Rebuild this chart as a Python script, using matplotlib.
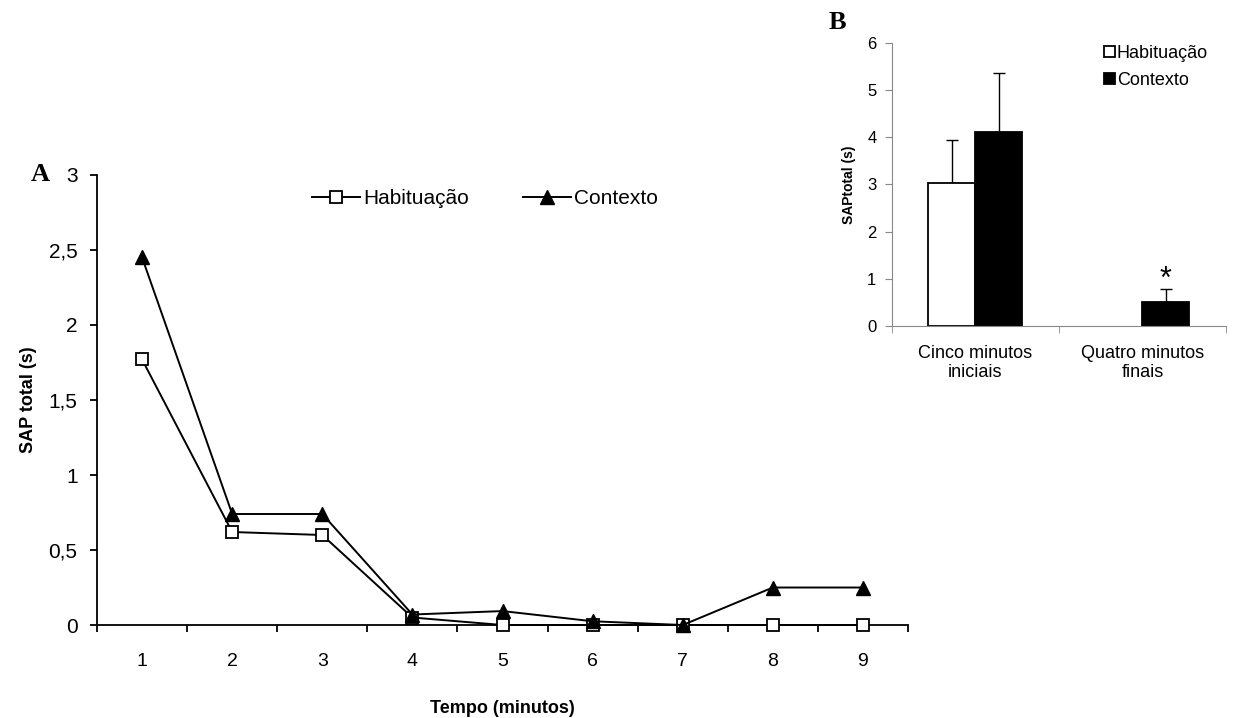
import matplotlib
matplotlib.use("Agg")
import matplotlib.pyplot as plt
import numpy as np

plt.rcParams['font.family'] = ['Liberation Sans', 'DejaVu Sans']

# painel A - SAP por minuto
minutos = [1, 2, 3, 4, 5, 6, 7, 8, 9]
habituacao = [1.77, 0.62, 0.60, 0.05, 0.0, 0.0, 0.0, 0.0, 0.0]
contexto = [2.45, 0.74, 0.74, 0.07, 0.093, 0.025, 0.0, 0.25, 0.25]

# painel B - medias e erros
grupos_b = ['Cinco minutos\niniciais', 'Quatro minutos\nfinais']
hab_b = [3.03, 0.0]
hab_b_err = [0.90, 0.0]
ctx_b = [4.11, 0.51]
ctx_b_err = [1.24, 0.27]

fig = plt.figure(figsize=(12.33, 7.18), dpi=100)

# ---- A ----
ax = fig.add_axes([0.0787, 0.1295, 0.6577, 0.6268])
ax.plot(minutos, habituacao, color='black', lw=1.4, marker='s', ms=9,
        mfc='white', mec='black', mew=1.3, label='Habituação', zorder=3,
        clip_on=False)
ax.plot(minutos, contexto, color='black', lw=1.4, marker='^', ms=9.5,
        mfc='black', mec='black', label='Contexto', zorder=4, clip_on=False)
ax.set_xlim(0.5, 9.5)
ax.set_ylim(0, 3)
ax.set_xticks(minutos)
ax.set_xticks(np.arange(0.5, 9.6, 1), minor=True)
ax.tick_params(axis='x', which='major', length=0, pad=20, labelsize=14)
ax.tick_params(axis='x', which='minor', length=5, width=1.3, direction='out')
ax.set_yticks([0, 0.5, 1, 1.5, 2, 2.5, 3])
ax.set_yticklabels(['0', '0,5', '1', '1,5', '2', '2,5', '3'])
ax.tick_params(axis='y', length=5, width=1.3, labelsize=15, pad=9)
for s in ['top', 'right']:
    ax.spines[s].set_visible(False)
for s in ['left', 'bottom']:
    ax.spines[s].set_linewidth(1.3)
ax.set_xlabel('Tempo (minutos)', fontsize=13, fontweight='bold', labelpad=22)
ax.set_ylabel('SAP total (s)', fontsize=13, fontweight='bold', labelpad=8)
ax.legend(loc='upper center', bbox_to_anchor=(0.478, 1.01), ncol=2, frameon=False,
          fontsize=15, handlelength=2.3, columnspacing=2.6, handletextpad=0.15)
ax.patch.set_visible(False)
fig.text(0.025, 0.757, 'A', fontsize=19, fontweight='bold',
         family='Liberation Serif', va='center')

# ---- B ----
bx = fig.add_axes([0.7232, 0.546, 0.2711, 0.3945])
pos = np.arange(len(grupos_b))
w = 0.28
hab_edges = ['black' if v > 0 else 'none' for v in hab_b]
bx.bar(pos - w / 2, hab_b, w, color='white', edgecolor=hab_edges, lw=1.3,
       label='Habituação', zorder=2)
bx.bar(pos + w / 2, ctx_b, w, color='black', edgecolor='black', lw=1.3,
       label='Contexto', zorder=2)
for i in range(len(pos)):
    if hab_b[i] > 0:
        bx.errorbar(pos[i] - w / 2, hab_b[i], yerr=[[0], [hab_b_err[i]]],
                    color='black', lw=1, capsize=4, capthick=1, zorder=1)
    bx.errorbar(pos[i] + w / 2, ctx_b[i], yerr=[[0], [ctx_b_err[i]]],
                color='black', lw=1, capsize=4, capthick=1, zorder=1)
bx.text(pos[1] + w / 2, ctx_b[1] + ctx_b_err[1] - 0.12, '*', ha='center',
        va='bottom', fontsize=22)
bx.set_xlim(-0.5, 1.5)
bx.set_ylim(0, 6)
bx.set_xticks(pos)
bx.set_xticklabels(grupos_b, fontsize=13, linespacing=1.1)
bx.set_xticks([-0.5, 0.5, 1.5], minor=True)
bx.tick_params(axis='x', which='major', length=0, pad=14)
bx.tick_params(axis='x', which='minor', length=5, color='#888888')
bx.tick_params(axis='y', length=5, color='#888888', labelsize=12, pad=6)
for s in ['top', 'right']:
    bx.spines[s].set_visible(False)
for s in ['left', 'bottom']:
    bx.spines[s].set_color('#888888')
bx.set_ylabel('SAPtotal (s)', fontsize=10, fontweight='bold', labelpad=8)
bx.legend(loc='upper right', bbox_to_anchor=(0.995, 1.05), frameon=False, fontsize=13,
          handlelength=0.6, handleheight=0.6, handletextpad=0.1, labelspacing=0.55)
fig.text(0.672, 0.968, 'B', fontsize=19, fontweight='bold',
         family='Liberation Serif', va='center')

fig.savefig('out.png', dpi=100)
